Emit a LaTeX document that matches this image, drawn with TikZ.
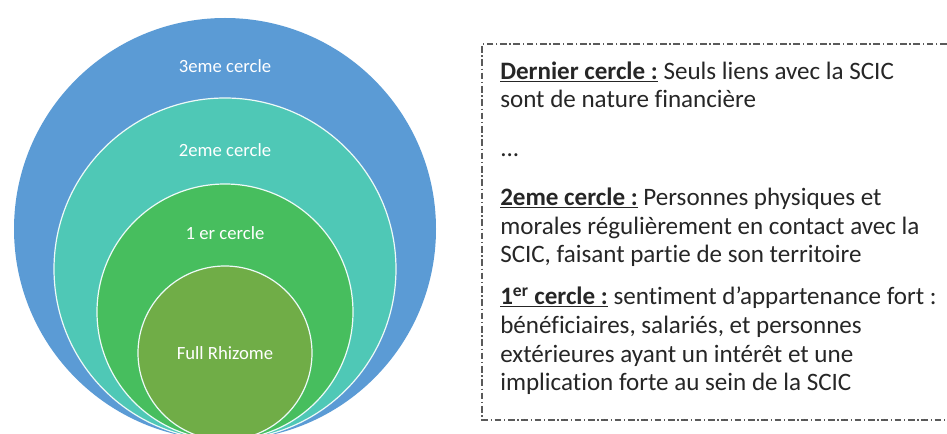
\documentclass[tikz,border=0pt]{standalone}
\usepackage{fontspec}
\setmainfont{Carlito}[Ligatures={NoCommon,TeX}]
\definecolor{ringblue}{HTML}{5B9BD5}
\definecolor{ringteal}{HTML}{4FC8B6}
\definecolor{ringgreen}{HTML}{47BE5E}
\definecolor{ringolive}{HTML}{70AD47}
\definecolor{boxgray}{HTML}{5A5A5A}
\begin{document}
\begin{tikzpicture}[x=0.75pt,y=-0.75pt,
	ring/.style={draw=white!90!ringteal,line width=0.9pt},
	ringlabel/.style={text=white,font=\fontsize{14}{16}\selectfont},
	para/.style={anchor=base west,align=left,inner sep=0pt,text=black!85,font=\fontsize{18.8}{21.6}\selectfont},
	frame/.style={draw=boxgray,line width=0.8pt,dash pattern=on 5pt off 2pt on 1pt off 2pt}]
	\useasboundingbox (0,0) rectangle (947,434);
	\clip (0,0) rectangle (947,434);
	\fill[ringblue] (225,229) circle[radius=211];
	\draw[ring,fill=ringteal] (225,269) circle[radius=171];
	\draw[ring,fill=ringgreen] (225,312) circle[radius=128];
	\draw[ring,fill=ringolive] (225,353) circle[radius=87];
	\node[ringlabel] (lab3) at (225,66) {3eme cercle};
	\node[ringlabel] (lab2) at (225,150) {2eme cercle};
	\node[ringlabel] (lab1) at (225,233) {1 er cercle};
	\node[ringlabel] (labfull) at (225,353) {Full Rhizome};
	\draw[frame] (960,44)coordinate (NE)--(482,44)coordinate (NW)--(482,420)coordinate (SW)--(960,420)coordinate (SE);
	\node[para] (dernier) at (500,108) {\underline{\textbf{Dernier cercle :}} Seuls liens avec la SCIC\\sont de nature financière};
	\node[para] (dots) at (500,157) {...};
	\node[para] (deux) at (500,263) {\underline{\textbf{2eme cercle :}} Personnes physiques et\\morales régulièrement en contact avec la\\SCIC, faisant partie de son territoire};
	\node[para] (premier) at (500,391) {\underline{\textbf{1\textsuperscript{er} cercle :}} sentiment d’appartenance fort :\\bénéficiaires, salariés, et personnes\\extérieures ayant un intérêt et une\\implication forte au sein de la SCIC};
\end{tikzpicture}
\end{document}
